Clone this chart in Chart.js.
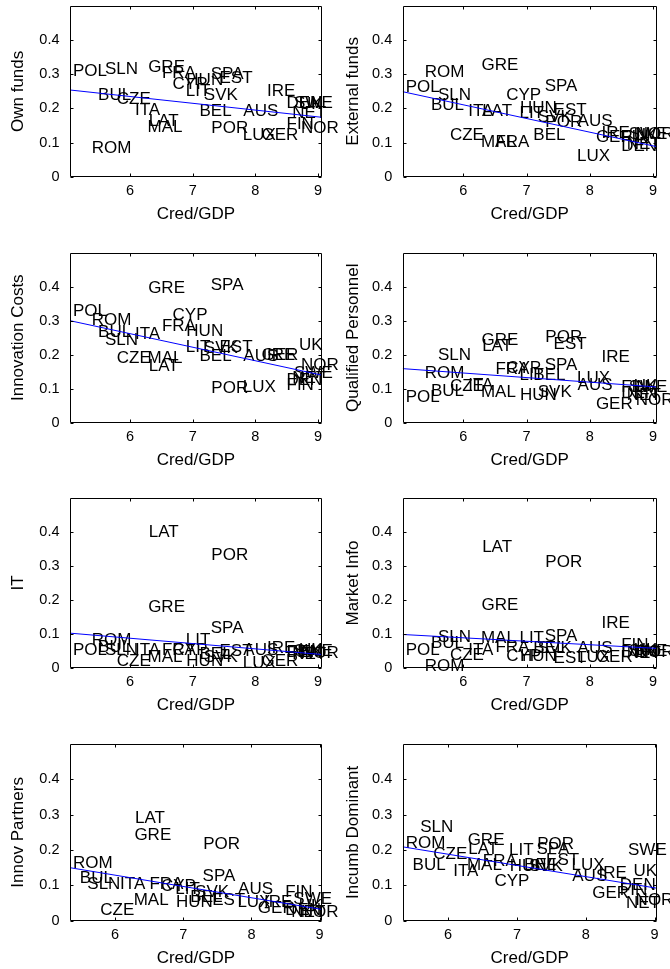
<!DOCTYPE html>
<html>
<head>
<meta charset="utf-8">
<title>Obstacles vs Cred/GDP</title>
<script src="https://cdn.jsdelivr.net/npm/chart.js@4.4.0/dist/chart.umd.min.js"></script>
<style>
  html, body { margin: 0; padding: 0; background: #fff; }
  #page { position: relative; width: 670px; height: 969px; overflow: hidden; }
  #page canvas { position: absolute; }
</style>
</head>
<body>
<div id="page"></div>
<script>
// country codes, same order in every series
const countries = ['AUS','BEL','BUL','CYP','CZE','DEN','EST','FIN','FRA','GER','GRE','HUN','IRE','ITA',
                   'LAT','LIT','LUX','MAL','NET','NOR','POL','POR','ROM','SLN','SPA','SVK','SWE','UK'];
const credGdp = [7.76, 7.06, 5.44, 6.63, 5.74, 8.45, 7.38, 8.45, 6.46, 8.05, 6.24, 6.85, 8.14, 6.03,
                 6.25, 6.84, 7.75, 6.23, 8.54, 8.68, 5.04, 7.25, 5.34, 5.55, 7.24, 7.13, 8.57, 8.65];

const ownFunds      = [0.192, 0.192, 0.237, 0.271, 0.226, 0.215, 0.288, 0.154, 0.304, 0.122, 0.319, 0.283, 0.249, 0.195,
                       0.161, 0.249, 0.122, 0.146, 0.185, 0.141, 0.310, 0.141, 0.083, 0.315, 0.300, 0.239, 0.215, 0.212];
const externalFunds = [0.161, 0.120, 0.210, 0.237, 0.122, 0.090, 0.195, 0.115, 0.100, 0.115, 0.327, 0.200, 0.127, 0.192,
                       0.192, 0.185, 0.059, 0.100, 0.095, 0.125, 0.261, 0.158, 0.305, 0.239, 0.266, 0.175, 0.125, 0.120];
const innovCosts    = [0.195, 0.195, 0.266, 0.315, 0.188, 0.125, 0.222, 0.110, 0.283, 0.198, 0.395, 0.269, 0.198, 0.261,
                       0.166, 0.222, 0.105, 0.188, 0.130, 0.169, 0.327, 0.100, 0.302, 0.242, 0.403, 0.218, 0.145, 0.227];
const qualPersonnel = [0.110, 0.140, 0.091, 0.161, 0.108, 0.086, 0.232, 0.105, 0.156, 0.054, 0.242, 0.081, 0.191, 0.110,
                       0.224, 0.140, 0.130, 0.088, 0.080, 0.066, 0.076, 0.252, 0.144, 0.198, 0.169, 0.088, 0.105, 0.107];
const itObstacle    = [0.050, 0.040, 0.060, 0.050, 0.018, 0.045, 0.048, 0.045, 0.050, 0.018, 0.179, 0.018, 0.057, 0.050,
                       0.400, 0.081, 0.013, 0.032, 0.040, 0.042, 0.050, 0.332, 0.081, 0.050, 0.115, 0.032, 0.048, 0.050];
const marketInfo    = [0.057, 0.057, 0.071, 0.034, 0.037, 0.045, 0.027, 0.066, 0.060, 0.032, 0.185, 0.034, 0.130, 0.050,
                       0.354, 0.086, 0.032, 0.086, 0.042, 0.045, 0.050, 0.310, 0.003, 0.091, 0.094, 0.057, 0.048, 0.050];
const innovPartners = [0.088, 0.067, 0.119, 0.096, 0.030, 0.030, 0.058, 0.079, 0.102, 0.035, 0.241, 0.053, 0.053, 0.102,
                       0.290, 0.090, 0.051, 0.058, 0.025, 0.025, null,  0.215, 0.161, 0.102, 0.126, 0.081, 0.061, 0.040];
const incumbDominant= [0.126, 0.158, 0.156, 0.112, 0.189, 0.101, 0.172, 0.087, 0.169, 0.077, 0.228, 0.153, 0.134, 0.139,
                       0.202, 0.200, 0.156, 0.156, 0.049, 0.058, null,  0.216, 0.219, 0.263, 0.202, 0.153, 0.198, 0.139];

const yTitles = ['Own funds', 'External funds', 'Innovation Costs', 'Qualified Personnel',
                 'IT', 'Market Info', 'Innov Partners', 'Incumb Dominant'];
const series = [ownFunds, externalFunds, innovCosts, qualPersonnel, itObstacle, marketInfo, innovPartners, incumbDominant];
// fitted line, value at left and right end of the x range
const fitStart = [0.254, 0.249, 0.300, 0.159, 0.102, 0.098, 0.150, 0.209];
const fitEnd   = [0.174, 0.088, 0.140, 0.105, 0.039, 0.057, 0.032, 0.092];

const xTicks = [6, 7, 8, 9];
const yTicks = [0, 0.1, 0.2, 0.3, 0.4];
const xRangeTop = [5.04, 9.06];     // rows 1-3
const xRangeBottom = [5.34, 9.03];  // row 4 (no POL)
const yRange = [0, 0.5];

// page layout (px)
const CELL_X = [0, 335], CELL_W = [345, 335];
const ROW_TOP = [0, 240, 485, 730], ROW_H = [240, 245, 245, 239];
const BOX_TOP = [6, 252.7, 498.3, 744], BOX_BOTTOM = [176.7, 422.7, 667.7, 920.7];
const BOX_LEFT = [70, 402.7], BOX_RIGHT = [321.7, 656.7];

const FONT = '"Liberation Sans", Arial, Helvetica, sans-serif';

// axis box with inward ticks, plus the country codes as text marks
const matlabAxes = {
  id: 'matlabAxes',
  beforeDatasetsDraw(chart) {
    const ctx = chart.ctx;
    const meta = chart.getDatasetMeta(1);
    const pts = chart.data.datasets[1].data;
    ctx.save();
    ctx.font = '17px ' + FONT;
    ctx.fillStyle = '#000';
    ctx.textAlign = 'left';
    ctx.textBaseline = 'middle';
    meta.data.forEach((el, i) => {
      ctx.fillText(pts[i].label, el.x + 3, el.y);
    });
    ctx.restore();
  },
  afterDraw(chart) {
    const {ctx, chartArea: a, scales: {x, y}} = chart;
    const L = Math.round(a.left) + 0.5, R = Math.round(a.right) - 0.5;
    const T = Math.round(a.top) + 0.5, B = Math.round(a.bottom) - 0.5;
    ctx.save();
    ctx.strokeStyle = '#000';
    ctx.lineWidth = 1;
    ctx.beginPath();
    ctx.rect(L, T, R - L, B - T);
    yTicks.forEach(v => {
      const p = Math.round(y.getPixelForValue(v)) + 0.5;
      ctx.moveTo(L, p); ctx.lineTo(L + 3, p);
      ctx.moveTo(R, p); ctx.lineTo(R - 3, p);
    });
    xTicks.forEach(v => {
      const p = Math.round(x.getPixelForValue(v)) + 0.5;
      ctx.moveTo(p, B); ctx.lineTo(p, B - 3);
      ctx.moveTo(p, T); ctx.lineTo(p, T + 3);
    });
    ctx.stroke();
    ctx.restore();
  }
};

const page = document.getElementById('page');

series.forEach((vals, i) => {
  const row = Math.floor(i / 2), col = i % 2;
  const xr = row === 3 ? xRangeBottom : xRangeTop;

  const canvas = document.createElement('canvas');
  const w = CELL_W[col], h = ROW_H[row];
  canvas.width = w; canvas.height = h;
  canvas.style.left = CELL_X[col] + 'px';
  canvas.style.top = ROW_TOP[row] + 'px';
  canvas.style.width = w + 'px';
  canvas.style.height = h + 'px';
  page.appendChild(canvas);

  const yAxisW = BOX_LEFT[col] - CELL_X[col];
  const xAxisH = ROW_TOP[row] + h - BOX_BOTTOM[row];
  const padTop = BOX_TOP[row] - ROW_TOP[row];
  const padRight = CELL_X[col] + w - BOX_RIGHT[col];

  const points = [];
  vals.forEach((v, k) => {
    if (v !== null) points.push({x: credGdp[k], y: v, label: countries[k]});
  });

  new Chart(canvas, {
    type: 'scatter',
    data: {
      datasets: [
        {
          data: [{x: xr[0], y: fitStart[i]}, {x: xr[1], y: fitEnd[i]}],
          showLine: true,
          borderColor: '#0000ff',
          borderWidth: 1,
          pointRadius: 0
        },
        {
          data: points,
          pointRadius: 0,
          pointHoverRadius: 0
        }
      ]
    },
    options: {
      responsive: false,
      animation: false,
      events: [],
      layout: { padding: { top: padTop, right: padRight, left: 0, bottom: 0 } },
      plugins: { legend: { display: false }, tooltip: { enabled: false } },
      scales: {
        x: {
          type: 'linear',
          min: xr[0], max: xr[1],
          afterBuildTicks: s => { s.ticks = xTicks.map(v => ({value: v})); },
          afterFit: s => { s.height = xAxisH; s.paddingLeft = 0; s.paddingRight = 0; },
          grid: { display: false, drawTicks: false },
          border: { display: false },
          ticks: { padding: 6, color: '#000', autoSkip: false, maxRotation: 0,
                   font: { family: FONT, size: 14.5 }, callback: v => String(v) },
          title: { display: true, text: 'Cred/GDP', color: '#000',
                   font: { family: FONT, size: 17 }, padding: { top: 0, bottom: xAxisH - 47.7 } }
        },
        y: {
          type: 'linear',
          min: yRange[0], max: yRange[1],
          afterBuildTicks: s => { s.ticks = yTicks.map(v => ({value: v})); },
          afterFit: s => { s.width = yAxisW; s.paddingTop = 0; s.paddingBottom = 0; },
          grid: { display: false, drawTicks: false },
          border: { display: false },
          ticks: { padding: 10.5, color: '#000', autoSkip: false,
                   font: { family: FONT, size: 14.5 }, callback: v => String(v) },
          title: { display: true, text: yTitles[i], color: '#000',
                   font: { family: FONT, size: 17 }, padding: { top: 8.6, bottom: 0 } }
        }
      }
    },
    plugins: [matlabAxes]
  });
});
</script>
</body>
</html>
